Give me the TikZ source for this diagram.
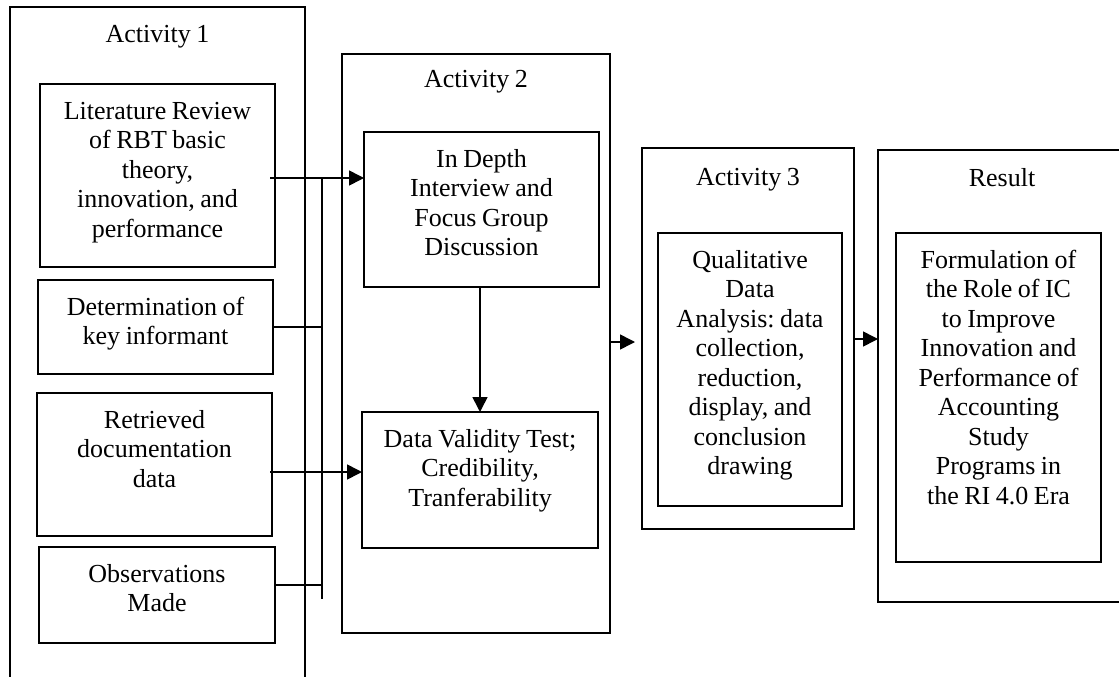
\documentclass[tikz,border=0pt]{standalone}
\usepackage{fontspec}
\setmainfont[WordSpace=0.85]{Liberation Serif}
\usetikzlibrary{arrows.meta}
\frenchspacing
\begin{document}
\begin{tikzpicture}[x=1pt,y=-1pt,
  frame/.style={draw, line width=1.6pt, inner sep=0pt, outer sep=0pt},
  panel/.style 2 args={frame, minimum width=#1, minimum height=#2},
  heading/.style={font=\fontsize{26}{29.5}\selectfont, anchor=base, inner sep=0pt},
  label/.style={font=\fontsize{26}{29.5}\selectfont, align=flush center, text width=#1, anchor=base, inner sep=0pt},
  link/.style={line width=1.6pt},
  arr/.style={line width=1.6pt, -{Triangle[length=15pt,width=15pt]}}]
\useasboundingbox (0,0) rectangle (1119,677);

% activity columns
\node[panel={295pt}{683pt}] (act1) at (157.5,348.5) {};
\node[panel={268pt}{579pt}] (act2) at (476,343.5) {};
\node[panel={212pt}{381pt}] (act3) at (748,338.5) {};
\node[panel={248pt}{452pt}] (res)  at (1002,376) {};

\node[heading] (t1) at ([yshift=-36pt]act1.north) {Activity 1};
\node[heading] (t2) at ([yshift=-34pt]act2.north) {Activity 2};
\node[heading] (t3) at ([yshift=-37pt]act3.north) {Activity 3};
\node[heading] (t4) at ([yshift=-36pt]res.north)  {Result};

% step boxes
\node[panel={235pt}{183pt}] (lit) at (157.5,175.5) {};
\node[panel={235pt}{94pt}]  (det) at (155.5,327) {};
\node[panel={235pt}{143pt}] (ret) at (154.5,464.5) {};
\node[panel={236pt}{96pt}]  (obs) at (157,595) {};
\node[panel={235pt}{155pt}] (idi) at (481.5,209.5) {};
\node[panel={236pt}{136pt}] (dvt) at (480,480) {};
\node[panel={184pt}{273pt}] (qda) at (750,369.5) {};
\node[panel={205pt}{329pt}] (frm) at (998.5,397.5) {};

\node[label=230pt] (litT) at ([yshift=-35pt]lit.north) {Literature Review\\of RBT basic\\theory,\\innovation, and\\performance};
\node[label=230pt] (detT) at ([yshift=-35pt]det.north) {Determination of\\key informant};
\node[label=230pt] (retT) at ([yshift=-35pt]ret.north) {Retrieved\\documentation\\data};
\node[label=230pt] (obsT) at ([yshift=-35pt]obs.north) {Observations\\Made};
\node[label=230pt] (idiT) at ([yshift=-35pt]idi.north) {In Depth\\Interview and\\Focus Group\\Discussion};
\node[label=230pt] (dvtT) at ([yshift=-35pt]dvt.north) {Data Validity Test;\\Credibility,\\Tranferability};
\node[label=180pt] (qdaT) at ([yshift=-35pt]qda.north) {Qualitative\\Data\\Analysis: data\\collection,\\reduction,\\display, and\\conclusion\\drawing};
\node[label=200pt] (frmT) at ([yshift=-35pt]frm.north) {Formulation of\\the Role of IC\\to Improve\\Innovation and\\Performance of\\Accounting\\Study\\Programs in\\the RI 4.0 Era};

% collecting bus of activity 1
\coordinate (busTop) at (322,178);
\coordinate (busBot) at (322,599);
\coordinate (busRet) at (322,472);
\coordinate (busObs) at (322,585);
\coordinate (litOut) at ([xshift=-5pt]lit.east);
\coordinate (retOut) at ([xshift=-2pt]ret.east);
\coordinate (y23) at (0,342);
\coordinate (y34) at (0,339);

\draw[link] (busTop) -- (busBot);
\draw[arr] (litOut |- busTop) -- (idi.west |- busTop);
\draw[link] (det.east) -- (det.east -| busTop);
\draw[arr] (retOut |- busRet) -- (dvt.west |- busRet);
\draw[link] (obs.east |- busObs) -- (busObs);

% flow between activities
\draw[arr] (dvt.north |- idi.south) -- (dvt.north);
\draw[arr, shorten >=7pt] (act2.east |- y23) -- (act3.west |- y23);
\draw[arr] (act3.east |- y34) -- (res.west |- y34);
\end{tikzpicture}
\end{document}
